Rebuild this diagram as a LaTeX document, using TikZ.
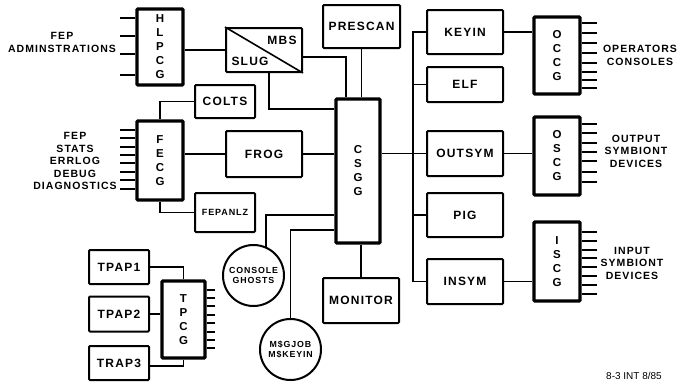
\documentclass[tikz,border=0pt]{standalone}
\usepackage{fontspec}
\setmainfont{Liberation Sans}[LetterSpace=10]
\newfontfamily\notefont{Liberation Sans}
\usetikzlibrary{positioning}

\begin{document}
\begin{tikzpicture}[x=1pt, y=-1pt,
      blk/.style={draw, line width=2pt, rounded corners=1pt, inner sep=0pt,
                  font=\bfseries\fontsize{12}{14}\selectfont, align=center},
      gate/.style={blk, line width=3.2pt, minimum width=46pt,
                  font=\bfseries\fontsize{11.5}{14}\selectfont},
      rbox/.style={blk, minimum width=76pt},
      tbox/.style={blk, minimum width=60pt, minimum height=35pt},
      ghost/.style={draw, circle, line width=2pt, minimum size=61pt, inner sep=0pt,
                  align=center, font=\bfseries\fontsize{8.8}{10.5}\selectfont},
      txt/.style={font=\bfseries\fontsize{12}{14}\selectfont},
      side/.style={font=\bfseries\fontsize{10.5}{12.5}\selectfont, align=center},
      wire/.style={line width=1.8pt},
      pin/.style={line width=1.6pt}]

    \useasboundingbox (0,0) rectangle (681,381);

    % gateways on the left
    \node[gate, minimum height=76pt] (hlpcg) at (160,47) {H\\L\\P\\C\\G};
    \node[gate, minimum height=79pt] (fecg) at (160,160.5) {F\\E\\C\\G};
    \node[gate, minimum width=43pt, minimum height=77pt] (tpcg) at (183.5,319.5) {T\\P\\C\\G};

    \foreach \y in {18,36,54,75} \draw[pin] (hlpcg.west |- 0,\y) -- ++(-15,0);
    \foreach \y in {130,138,147,155,163,172,180,189} \draw[pin] (fecg.west |- 0,\y) -- ++(-15,0);
    \foreach \y in {290,298,306,315,323,332,340,348} \draw[pin] (tpcg.east |- 0,\y) -- ++(8,0);

    \node[side] (admin) at (62,42.5) {FEP\\ADMINSTRATIONS};
    \node[side] (stats) at (75,161) {FEP\\STATS\\ERRLOG\\DEBUG\\DIAGNOSTICS};

    % MBS / SLUG split box
    \node[blk, minimum width=76pt, minimum height=44pt] (slug) at (264,50) {};
    \draw[pin] (slug.north west) -- (slug.south east);
    \node[txt] (mbs) at (282,40) {MBS};
    \node[txt] (slugtxt) at (250,61) {SLUG};

    % middle boxes
    \node[blk, minimum width=77pt, minimum height=43pt] (prescan) at (361.5,26.5) {PRESCAN};
    \node[blk, minimum width=60pt, minimum height=33pt] (colts) at (225,101.5) {COLTS};
    \node[blk, minimum width=76pt, minimum height=46pt] (frog) at (264,154) {FROG};
    \node[blk, minimum width=60pt, minimum height=39pt,
          font=\bfseries\fontsize{9}{11}\selectfont] (fepanlz) at (225,212.5) {FEPANLZ};
    \node[gate, minimum width=44pt, minimum height=144pt] (csgg) at (358,171) {C\\S\\G\\G};
    \node[ghost] (ghosts) at (253.5,275.5) {CONSOLE\\GHOSTS};
    \node[ghost] (msgjob) at (290.5,349.5) {M\$GJOB\\M\$KEYIN};
    \node[blk, minimum width=76pt, minimum height=45pt] (monitor) at (361,300.5) {MONITOR};

    % terminal processors
    \node[tbox, minimum height=34pt] (tpap1) at (119,267) {TPAP1};
    \node[tbox] (tpap2) at (119,314) {TPAP2};
    \node[tbox, minimum height=34pt] (trap3) at (119,363) {TRAP3};

    % right-hand column
    \node[rbox, minimum height=44pt] (keyin) at (465,32) {KEYIN};
    \node[rbox, minimum height=35pt] (elf) at (465,84.5) {ELF};
    \node[rbox, minimum height=45pt] (outsym) at (465,153.5) {OUTSYM};
    \node[rbox, minimum height=44pt] (pig) at (465,215) {PIG};
    \node[rbox, minimum height=45pt] (insym) at (465,281.5) {INSYM};

    \node[gate, minimum height=77pt] (occg) at (557,55.5) {O\\C\\C\\G};
    \node[gate, minimum height=78pt] (oscg) at (557,156) {O\\S\\C\\G};
    \node[gate, minimum height=79pt] (iscg) at (557,261.5) {I\\S\\C\\G};

    \foreach \y in {23,33,43,53,63,72,80,88} \draw[pin] (occg.east |- 0,\y) -- ++(15,0);
    \foreach \y in {124,133,143,152,161,172,182} \draw[pin] (oscg.east |- 0,\y) -- ++(15,0);
    \foreach \y in {232,241,250,258,267,276,285,294} \draw[pin] (iscg.east |- 0,\y) -- ++(15,0);

    \node[side] (opcons) at (640,55.5) {OPERATORS\\CONSOLES};
    \node[side] (outdev) at (636,151) {OUTPUT\\SYMBIONT\\DEVICES};
    \node[side] (indev) at (632,263) {INPUT\\SYMBIONT\\DEVICES};

    % connections, left half
    \draw[wire] (slug.west) -- (slug.west -| hlpcg.east);
    \draw[wire] ([yshift=-7pt]slug.east) -| ([xshift=-12pt]csgg.north);
    \draw[wire] ([xshift=5pt]slug.south) |- (csgg.west |- 0,109);
    \draw[wire] (prescan.south) -- (prescan.south |- csgg.north);
    \draw[wire] (colts.west) -| (fecg.north);
    \draw[wire] (frog.west) -- (frog.west -| fecg.east);
    \draw[wire] (frog.east) -- (frog.east -| csgg.west);
    \draw[wire] (fecg.south) |- (fepanlz.west);
    \draw[wire] (csgg.west |- 0,215) -| (ghosts.66);
    \draw[wire] (csgg.west |- 0,230) -| (msgjob.north);
    \draw[wire] (monitor.north) -- (monitor.north |- csgg.south);

    \draw[wire] (tpap1.east) -| (tpcg.north);
    \draw[wire] (tpap2.east) -- (tpap2.east -| tpcg.west);
    \draw[wire] ([yshift=-3pt]trap3.east) -| (tpcg.south);

    % bus to the right-hand column
    \draw[wire] (csgg.east |- outsym.west) -- (outsym.west);
    \draw[wire] (keyin.west) -- ++(-13,0) |- (insym.west);
    \foreach \b in {elf, pig} \draw[wire] (\b.west) -- ++(-13,0);

    \draw[wire] (keyin.east) -- (keyin.east -| occg.west);
    \draw[wire] (outsym.east) -- (outsym.east -| oscg.west);
    \draw[wire] (insym.east) -- (insym.east -| iscg.west);

    \node[font=\notefont\fontsize{10}{12}\selectfont] (note) at (634,376) {8-3 INT 8/85};

\end{tikzpicture}
\end{document}
